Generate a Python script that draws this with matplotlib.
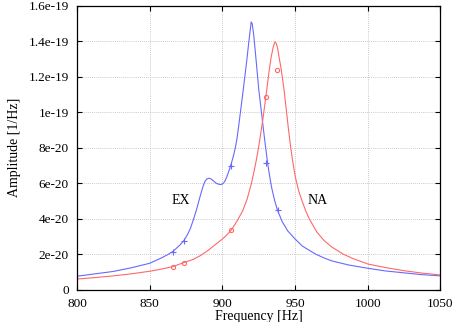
import numpy as np
import matplotlib
matplotlib.use("Agg")
import matplotlib.pyplot as plt
from matplotlib.ticker import FuncFormatter

# curve EX (blue), amplitude in units of 1e-20
ex_freq = [800, 812, 825, 837, 850, 858, 862, 865.8, 868, 870.8, 873.5, 876,
           878, 880, 882, 883.5, 885, 886.8, 888, 889.5, 891, 892.5, 894, 896,
           898.5, 900, 901.5, 903, 904, 905, 906, 907, 908, 909, 910, 911, 912,
           913, 914, 915, 916, 917, 918, 919, 919.8, 920.5, 921.5, 922.3, 923,
           924, 925, 926, 927, 928, 929, 930, 931, 932, 933, 934, 936, 938,
           941, 945, 950, 955, 960, 964, 970, 975, 987, 1000, 1012, 1025, 1037,
           1050]
ex_amp = [0.75, 0.88, 1.02, 1.22, 1.48, 1.78, 1.95, 2.14, 2.3, 2.51, 2.76, 3.1,
          3.45, 3.93, 4.45, 4.9, 5.35, 5.85, 6.1, 6.25, 6.28, 6.22, 6.12, 5.98,
          5.92, 5.95, 6.08, 6.35, 6.58, 6.82, 7.08, 7.36, 7.68, 8.05, 8.5, 9.1,
          9.75, 10.4, 11.05, 11.72, 12.4, 13.1, 13.85, 14.55, 15.1, 15.0, 14.4,
          13.7, 13.1, 12.2, 11.3, 10.6, 9.9, 9.2, 8.5, 7.85, 7.2, 6.65, 6.15,
          5.7, 5.0, 4.45, 3.85, 3.3, 2.85, 2.45, 2.2, 2.0, 1.78, 1.62, 1.38,
          1.2, 1.05, 0.94, 0.84, 0.77]

# curve NA (red)
na_freq = [800, 812, 825, 837, 850, 858, 865.8, 873.5, 880, 885, 890, 894,
           900, 903, 906, 910, 914, 917, 920, 922, 924, 926, 928, 930, 932,
           933.5, 935, 936.1, 937, 938, 939, 940.3, 941.5, 942.5, 944, 945.5,
           947, 948.5, 950.3, 952.5, 955, 957.5, 960, 965, 970, 975, 983, 990,
           1000, 1012, 1025, 1037, 1050]
na_amp = [0.59, 0.67, 0.77, 0.88, 1.03, 1.15, 1.29, 1.52, 1.7, 1.92, 2.2, 2.46,
          2.85, 3.08, 3.34, 3.85, 4.45, 5.1, 6.0, 6.75, 7.6, 8.6, 9.7, 10.95,
          12.25, 13.1, 13.7, 13.97, 13.9, 13.6, 13.1, 12.5, 11.8, 11.2, 10.1,
          9.0, 8.0, 7.15, 6.3, 5.55, 4.95, 4.4, 3.95, 3.24, 2.76, 2.41, 2.0,
          1.74, 1.44, 1.24, 1.06, 0.93, 0.82]

# measured points
ex_pts_f = [865.8, 873.5, 905.6, 930.1, 938.0]
ex_pts_a = [2.14, 2.76, 6.98, 7.13, 4.49]
na_pts_f = [865.8, 873.5, 905.9, 929.7, 937.7]
na_pts_a = [1.29, 1.52, 3.34, 10.86, 12.38]

scale = 1e-20
blue = "#6868ff"
red = "#ff6868"

plt.rcParams["font.family"] = ["Liberation Serif", "DejaVu Serif"]
plt.rcParams["font.size"] = 10

fig = plt.figure(figsize=(4.6, 3.22), dpi=100)
ax = fig.add_axes([0.1674, 0.1009, 0.7902, 0.8805])

ax.plot(ex_freq, np.array(ex_amp) * scale, color=blue, lw=0.8)
ax.plot(na_freq, np.array(na_amp) * scale, color=red, lw=0.8)
ax.plot(ex_pts_f, np.array(ex_pts_a) * scale, ls="none", marker="+",
        color=blue, ms=4, mew=0.8)
ax.plot(na_pts_f, np.array(na_pts_a) * scale, ls="none", marker="o",
        mfc="none", mec=red, ms=3, mew=0.8)

ax.text(871.5, 5.0e-20, "EX", ha="center", va="center", fontsize=10)
ax.text(965.6, 5.0e-20, "NA", ha="center", va="center", fontsize=10)

ax.set_xlim(800, 1050)
ax.set_ylim(0, 1.6e-19)
ax.set_xticks([800, 850, 900, 950, 1000, 1050])
ax.set_yticks(np.arange(0, 1.61e-19, 2e-20))


def fmt(v, pos):
    if abs(v) < 1e-25:
        return "0"
    s = "%g" % v
    m, e = s.split("e")
    return "%se%d" % (m, int(e))


ax.yaxis.set_major_formatter(FuncFormatter(fmt))
ax.tick_params(direction="in", length=3.6, width=0.8, top=True, right=True,
               labelsize=9.5, pad=6)
ax.grid(True, ls=(0, (1, 1.5)), color="#b8b8b8", lw=0.6)
for sp in ax.spines.values():
    sp.set_linewidth(0.9)

ax.set_xlabel("Frequency [Hz]", labelpad=0)
ax.set_ylabel("Amplitude [1/Hz]", labelpad=5)

fig.savefig("out.png", dpi=100)
